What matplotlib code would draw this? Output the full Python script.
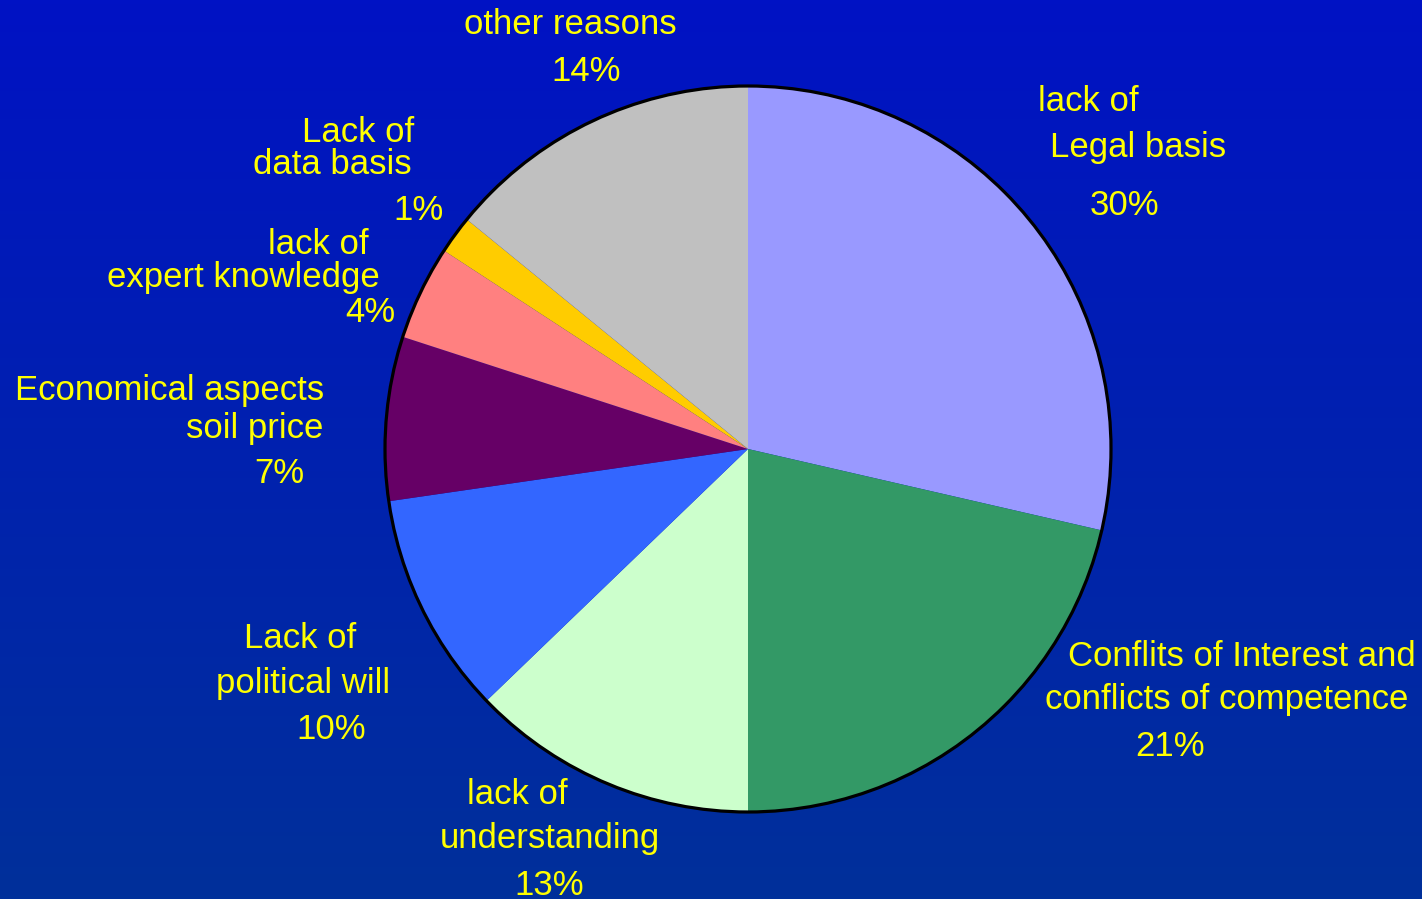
import numpy as np
import matplotlib
matplotlib.use("Agg")
from matplotlib import pyplot as plt
from matplotlib.patches import Circle
from matplotlib.colors import LinearSegmentedColormap

# slice sizes (clockwise from 12 o'clock)
categories = ["lack of Legal basis", "Conflits of Interest and conflicts of competence",
              "lack of understanding", "Lack of political will",
              "Economical aspects soil price", "lack of expert knowledge",
              "Lack of data basis", "other reasons"]
values = [28.6, 21.4, 12.8, 9.9, 7.3, 4.2, 1.7, 14.1]
pct_labels = ["30%", "21%", "13%", "10%", "7%", "4%", "1%", "14%"]
colors = ["#9999FF", "#339966", "#CCFFCC", "#3366FF", "#660066", "#FF8080", "#FFCC00", "#C0C0C0"]

# label lines for each slice (text, then the percentage)
label_lines = [
    ["lack of", "Legal basis"],
    ["Conflits of Interest and", "conflicts of competence"],
    ["lack of", "understanding"],
    ["Lack of", "political will"],
    ["Economical aspects", "soil price"],
    ["lack of", "expert knowledge"],
    ["Lack of", "data basis"],
    ["other reasons"],
]
# (center x, baseline y) in pixels from the top-left, one per line incl. the percentage
label_pos = [
    [(1088, 111), (1138, 157), (1124, 215)],
    [(1242, 666), (1227, 709), (1170, 756)],
    [(517, 804), (550, 848), (549, 895)],
    [(300, 648), (303, 693), (331, 739)],
    [(170, 400), (255, 438), (279, 483)],
    [(318, 254), (243, 287), (370, 322)],
    [(358, 142), (332, 174), (419, 220)],
    [(570, 34), (586, 81)],
]

W, H = 1422, 899
fig = plt.figure(figsize=(W / 100, H / 100), dpi=100)
ax = fig.add_axes([0, 0, 1, 1])

# vertical background gradient
bg = LinearSegmentedColormap.from_list("bg", ["#0012C4", "#00309A"])
grad = np.linspace(0, 1, 256).reshape(-1, 1)
ax.imshow(grad, cmap=bg, extent=[0, W, 0, H], aspect="auto", origin="upper", zorder=0)

cx, cy, r = 748, H - 449, 363
wedges, _ = ax.pie(values, colors=colors, startangle=90, counterclock=False,
                   center=(cx, cy), radius=r, frame=True,
                   wedgeprops=dict(edgecolor="none", linewidth=0))
for w in wedges:
    w.set_zorder(2)
ax.add_patch(Circle((cx, cy), r, fill=False, edgecolor="black", linewidth=2.3, zorder=3))

for lines, pct, pos in zip(label_lines, pct_labels, label_pos):
    for txt, (x, y) in zip(lines + [pct], pos):
        ax.text(x, H - y, txt, ha="center", va="baseline", color="#FFFF00",
                fontsize=25, family="Liberation Sans", zorder=4)

ax.set_xlim(0, W)
ax.set_ylim(0, H)
ax.set_aspect("auto")
ax.axis("off")

fig.savefig("out.png", dpi=100)
